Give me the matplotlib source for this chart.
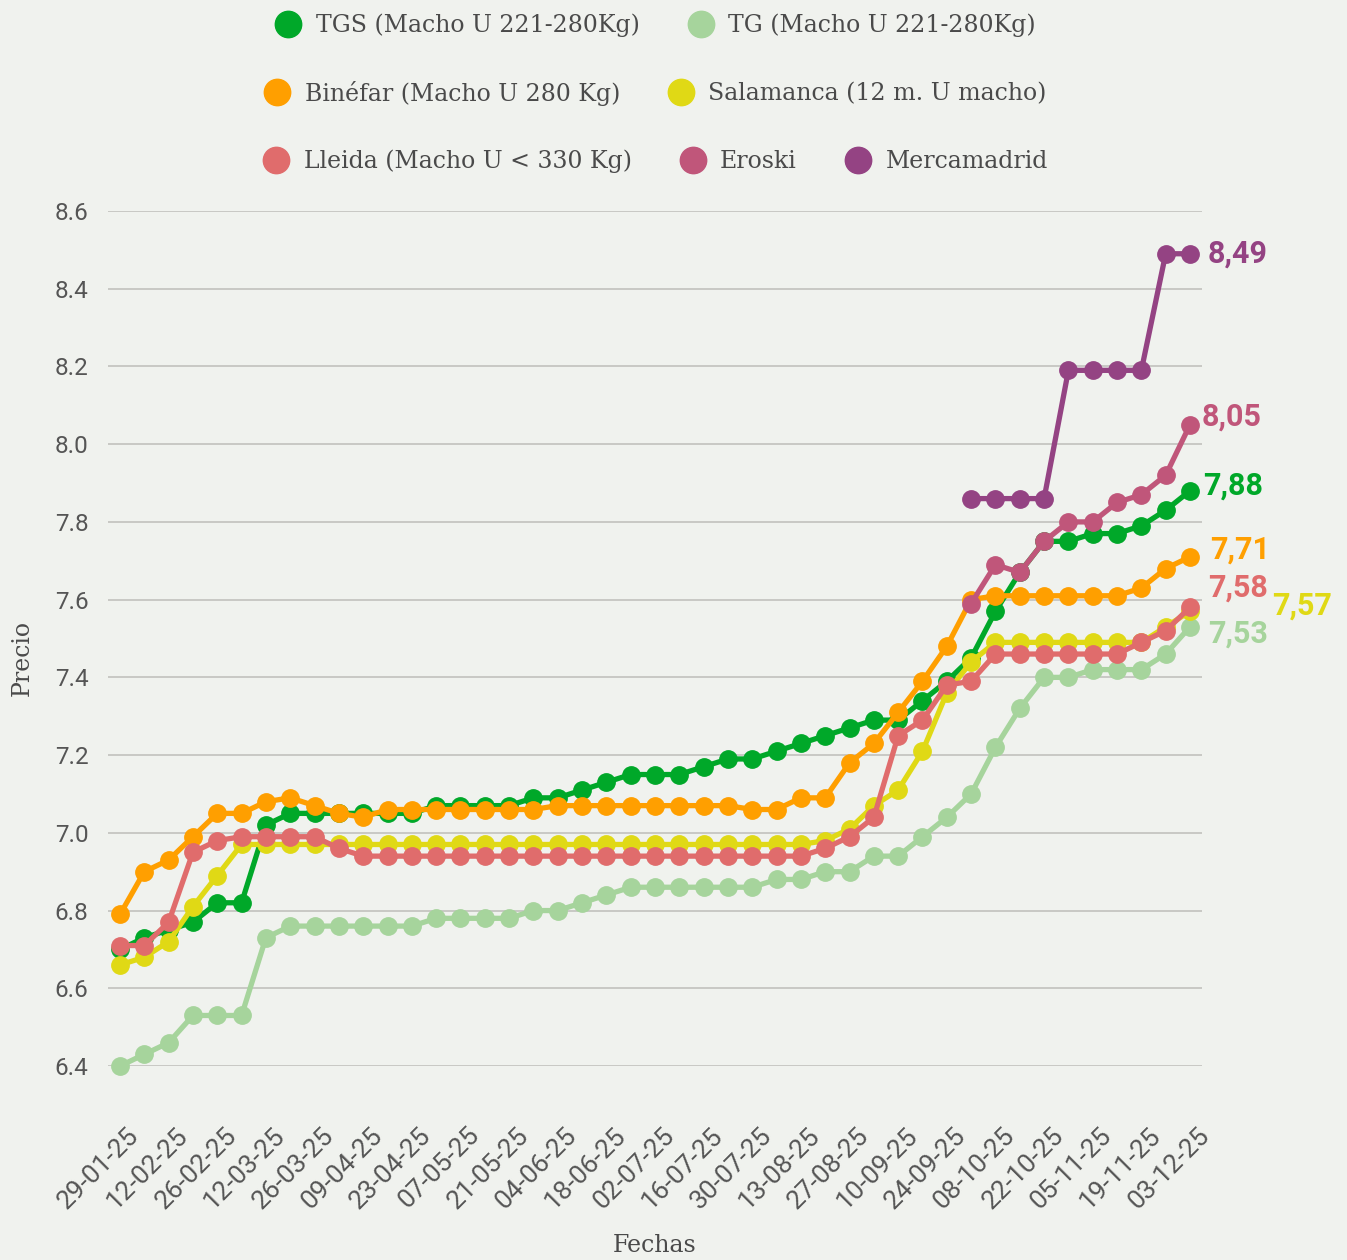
import numpy as np
import matplotlib
matplotlib.use('Agg')
import matplotlib.pyplot as plt
from matplotlib.lines import Line2D
import matplotlib.transforms as mtransforms

nan = np.nan

# Weekly dates (categories)
fechas = ['29-01-25', '05-02-25', '12-02-25', '19-02-25', '26-02-25', '05-03-25', '12-03-25',
          '19-03-25', '26-03-25', '02-04-25', '09-04-25', '16-04-25', '23-04-25', '30-04-25',
          '07-05-25', '14-05-25', '21-05-25', '28-05-25', '04-06-25', '11-06-25', '18-06-25',
          '25-06-25', '02-07-25', '09-07-25', '16-07-25', '23-07-25', '30-07-25', '06-08-25',
          '13-08-25', '20-08-25', '27-08-25', '03-09-25', '10-09-25', '17-09-25', '24-09-25',
          '01-10-25', '08-10-25', '15-10-25', '22-10-25', '29-10-25', '05-11-25', '12-11-25',
          '19-11-25', '26-11-25', '03-12-25']

tgs = [6.70, 6.73, 6.75, 6.77, 6.82, 6.82, 7.02, 7.05, 7.05, 7.05,
       7.05, 7.05, 7.05, 7.07, 7.07, 7.07, 7.07, 7.09, 7.09, 7.11,
       7.13, 7.15, 7.15, 7.15, 7.17, 7.19, 7.19, 7.21, 7.23, 7.25,
       7.27, 7.29, 7.29, 7.34, 7.39, 7.45, 7.57, 7.67, 7.75, 7.75,
       7.77, 7.77, 7.79, 7.83, 7.88]

tg = [6.40, 6.43, 6.46, 6.53, 6.53, 6.53, 6.73, 6.76, 6.76, 6.76,
      6.76, 6.76, 6.76, 6.78, 6.78, 6.78, 6.78, 6.80, 6.80, 6.82,
      6.84, 6.86, 6.86, 6.86, 6.86, 6.86, 6.86, 6.88, 6.88, 6.90,
      6.90, 6.94, 6.94, 6.99, 7.04, 7.10, 7.22, 7.32, 7.40, 7.40,
      7.42, 7.42, 7.42, 7.46, 7.53]

binefar = [6.79, 6.90, 6.93, 6.99, 7.05, 7.05, 7.08, 7.09, 7.07, 7.05,
           7.04, 7.06, 7.06, 7.06, 7.06, 7.06, 7.06, 7.06, 7.07, 7.07,
           7.07, 7.07, 7.07, 7.07, 7.07, 7.07, 7.06, 7.06, 7.09, 7.09,
           7.18, 7.23, 7.31, 7.39, 7.48, 7.60, 7.61, 7.61, 7.61, 7.61,
           7.61, 7.61, 7.63, 7.68, 7.71]

salamanca = [6.66, 6.68, 6.72, 6.81, 6.89, 6.97, 6.97, 6.97, 6.97, 6.97,
             6.97, 6.97, 6.97, 6.97, 6.97, 6.97, 6.97, 6.97, 6.97, 6.97,
             6.97, 6.97, 6.97, 6.97, 6.97, 6.97, 6.97, 6.97, 6.97, 6.98,
             7.01, 7.07, 7.11, 7.21, 7.36, 7.44, 7.49, 7.49, 7.49, 7.49,
             7.49, 7.49, 7.49, 7.53, 7.57]

lleida = [6.71, 6.71, 6.77, 6.95, 6.98, 6.99, 6.99, 6.99, 6.99, 6.96,
          6.94, 6.94, 6.94, 6.94, 6.94, 6.94, 6.94, 6.94, 6.94, 6.94,
          6.94, 6.94, 6.94, 6.94, 6.94, 6.94, 6.94, 6.94, 6.94, 6.96,
          6.99, 7.04, 7.25, 7.29, 7.38, 7.39, 7.46, 7.46, 7.46, 7.46,
          7.46, 7.46, 7.49, 7.52, 7.58]

eroski = [nan] * 35 + [7.59, 7.69, 7.67, 7.75, 7.80, 7.80, 7.85, 7.87, 7.92, 8.05]

mercamadrid = [nan] * 35 + [7.86, 7.86, 7.86, 7.86, 8.19, 8.19, 8.19, 8.19, 8.49, 8.49]

nombres = ['TGS (Macho U 221-280Kg)', 'TG (Macho U 221-280Kg)', 'Binéfar (Macho U 280 Kg)',
           'Salamanca (12 m. U macho)', 'Lleida (Macho U < 330 Kg)', 'Eroski', 'Mercamadrid']
series = [tgs, tg, binefar, salamanca, lleida, eroski, mercamadrid]
colores = ['#00a829', '#a6d49c', '#ff9f00', '#e0d915', '#e06c6c', '#c0567a', '#944383']
etiquetas = ['7,88', '7,53', '7,71', '7,57', '7,58', '8,05', '8,49']
# label offsets in pixels (dx, dy) from last point
offsets = [(13, 5), (18, -7), (20, 7), (82, 6), (18, 20), (12, 8), (18, 0)]

bg = '#f0f2ee'
txt = '#555555'
serif = 'DejaVu Serif'

fig = plt.figure(figsize=(13.47, 12.6), dpi=100, facecolor=bg)
W, H = 1347, 1260
ax = fig.add_axes([108 / W, (H - 1066) / H, (1202 - 108) / W, (1066 - 211) / H])
ax.set_facecolor(bg)

x = np.arange(len(fechas))
for k in range(len(series)):
    y = np.array(series[k], dtype=float)
    ax.plot(x, y, color=colores[k], lw=3.8, marker='o', ms=12.5, zorder=3 + k,
            clip_on=False, solid_capstyle='round')
    last = len(y) - 1
    dx, dy = offsets[k]
    ax.annotate(etiquetas[k], (x[last], y[last]), xytext=(dx * 0.72, dy * 0.72),
                textcoords='offset points', ha='left', va='center', color=colores[k],
                fontsize=22, fontweight='bold', family='Roboto', zorder=20,
                annotation_clip=False)

ax.set_xlim(-12 / 24.318, 44 + 12 / 24.318)
ax.set_ylim(6.4, 8.6)
ax.set_yticks([6.4, 6.6, 6.8, 7.0, 7.2, 7.4, 7.6, 7.8, 8.0, 8.2, 8.4, 8.6])
ax.set_yticklabels(['%.1f' % v for v in ax.get_yticks()], family='Roboto', fontsize=17.5, color=txt)
ax.grid(axis='y', color='#c8c8c4', lw=1.4, zorder=0)
ax.set_axisbelow(True)
for s in ax.spines.values():
    s.set_visible(False)
ax.tick_params(axis='y', length=0, pad=14)

ax.set_xticks(x[::2])
ax.set_xticklabels(fechas[::2], rotation=45, ha='right', va='top', rotation_mode='anchor',
                   family='Roboto', fontsize=19, color=txt)
ax.tick_params(axis='x', length=0, pad=41)
shift = mtransforms.ScaledTranslation(0.07, 0, fig.dpi_scale_trans)
for lab in ax.get_xticklabels():
    lab.set_transform(lab.get_transform() + shift)

fig.text(22 / W, 1 - 658 / H, 'Precio', rotation=90, ha='center', va='center',
         family=serif, fontsize=17, color='#4a4a4a')
fig.text(655 / W, 1 - 1245 / H, 'Fechas', ha='center', va='center',
         family=serif, fontsize=17, color='#4a4a4a')

# legend: three centered rows
filas = [[0, 1], [2, 3], [4, 5, 6]]
ys = [25, 93, 161]
for fila, yy in zip(filas, ys):
    handles = [Line2D([], [], ls='none', marker='o', ms=19, color=colores[i]) for i in fila]
    leg = fig.legend(handles, [nombres[i] for i in fila], loc='center',
                     bbox_to_anchor=(655 / W, 1 - yy / H), ncol=len(fila), frameon=False,
                     handletextpad=0.55, columnspacing=2.0, handlelength=1.2,
                     prop={'family': serif, 'size': 17})
    for t in leg.get_texts():
        t.set_color('#4a4a4a')

plt.savefig('out.png', dpi=100, facecolor=bg)
